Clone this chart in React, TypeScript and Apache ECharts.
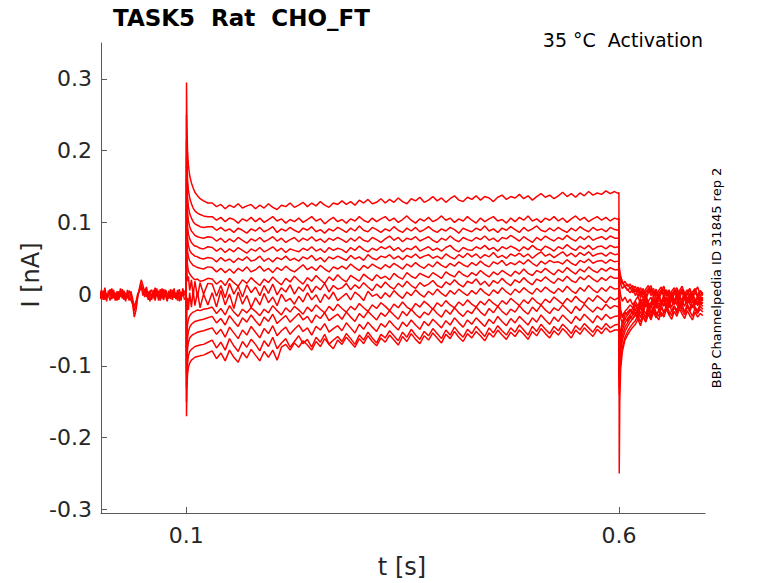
import React, { useEffect, useRef } from 'react';
import * as echarts from 'echarts';

// axis ticks
const X_TICKS = [0.1, 0.6];
const Y_TICKS = [-0.3, -0.2, -0.1, 0, 0.1, 0.2, 0.3];

// holding current before the step, pA, one sample every BASE_DT s
const BASE_DT = 0.002;
const BASELINE_PA = [
  [2, -6, 5, -8, 1, -4, 7, -7, 3, -9,
    4, -5, 8, -6, 0, -10, 6, -3, -8, -14,
    -32, -22, -4, 9, 20, 12, 3, 10, -6, 5,
    -8, 6, -4, 8, -9, 3, -6, 7, -2, -10,
    5, -7, 6, -5, 2, -9, 7, -4, 4, -8],
  [-3, 6, -8, 3, -10, 5, -2, 8, -6, 2,
    -9, 4, -4, 7, -8, 2, -6, 5, -2, -10,
    -24, -16, -2, 6, 14, 5, -4, 8, -8, 3,
    6, -6, 9, -3, 5, -9, 8, -5, 4, -7,
    -2, 7, -8, 4, -6, 6, -10, 3, -3, 5],
  [-7, 1, -3, 9, -5, -1, -9, 2, 6, -5,
    3, -8, 2, -2, 5, -7, 1, -9, 4, -6,
    -18, -10, 1, 4, 10, -2, 7, -4, 4, -10,
    -1, 3, -9, 2, -6, 7, -3, -8, 6, 1,
    -6, 2, -4, 8, -7, 0, 4, -9, 8, -2],
];

// step onset, s
const ONSET_T = [0.1, 0.1003, 0.1008, 0.1015, 0.1025, 0.104, 0.106, 0.108, 0.11, 0.113, 0.116, 0.12, 0.125];
// during the step, one sample every STEADY_DT s from STEADY_T0
const STEADY_T0 = 0.13;
const STEADY_DT = 0.005;
// step offset, s
const OFFSET_T = [0.5995, 0.6, 0.6004, 0.601, 0.602, 0.604, 0.607, 0.61, 0.613, 0.616];
// tail after the step, one sample every TAIL_DT s from TAIL_T0
const TAIL_T0 = 0.619;
const TAIL_DT = 0.003;

// one row per voltage step, pA
const ONSET_PA = [
  [0, 295, 235, 200, 180, 165, 155, 148, 142, 137, 133, 130, 127],
  [0, 250, 190, 160, 145, 134, 126, 120, 116, 113, 111, 109, 108],
  [0, 215, 160, 135, 122, 112, 106, 101, 98, 96, 94, 93, 94],
  [0, 190, 140, 115, 102, 94, 88, 85, 82, 80, 79, 78, 80],
  [0, 160, 115, 95, 84, 77, 72, 69, 67, 66, 64, 63, 66],
  [0, 130, 95, 78, 68, 61, 57, 55, 53, 52, 50, 49, 51],
  [0, 100, 75, 60, 52, 46, 43, 40, 39, 37, 36, 35, 38],
  [0, 80, 55, 40, 32, 28, 25, 22, 20, 21, 18, 19, 22],
  [0, 50, 30, 18, 25, 5, 20, -2, 18, -4, 16, 0, 15],
  [0, -40, -20, -5, -22, 2, -18, 5, -16, 3, -19, 0, -15],
  [0, -80, -55, -42, -35, -30, -27, -25, -24, -22, -23, -21, -20],
  [0, -110, -80, -62, -52, -46, -42, -40, -38, -37, -36, -35, -33],
  [0, -130, -95, -77, -67, -61, -58, -56, -55, -53, -52, -51, -49],
  [0, -150, -115, -97, -86, -80, -77, -75, -73, -72, -71, -70, -67],
  [0, -170, -130, -112, -102, -96, -92, -90, -88, -87, -86, -85, -82],
];

const STEADY_PA = [
  [127, 122, 125, 119, 124, 121, 126, 120, 123, 125,
    119, 124, 120, 126, 121, 118, 124, 122, 127, 121,
    124, 128, 122, 127, 123, 129, 124, 121, 127, 125,
    130, 125, 129, 124, 131, 127, 132, 126, 128, 133,
    127, 132, 128, 134, 129, 126, 133, 130, 135, 128,
    131, 136, 130, 134, 128, 133, 137, 131, 129, 135,
    132, 137, 131, 136, 134, 129, 135, 138, 132, 136,
    134, 139, 133, 137, 131, 136, 140, 135, 138, 133,
    137, 142, 136, 140, 135, 141, 137, 143, 138, 141,
    139, 144, 140, 143],
  [108, 103, 107, 101, 106, 104, 99, 105, 102, 107,
    101, 106, 100, 104, 108, 102, 105, 99, 104, 101,
    106, 100, 104, 108, 102, 105, 98, 103, 107, 101,
    104, 99, 105, 102, 108, 103, 100, 106, 101, 105,
    108, 102, 106, 100, 104, 109, 103, 99, 105, 102,
    107, 101, 104, 109, 103, 106, 100, 105, 102, 108,
    103, 99, 106, 101, 105, 108, 102, 104, 99, 106,
    101, 107, 103, 109, 102, 105, 100, 106, 103, 108,
    102, 106, 100, 105, 109, 103, 107, 101, 105, 108,
    103, 107, 102, 106],
  [94, 89, 93, 88, 91, 86, 92, 89, 85, 91,
    88, 93, 87, 90, 94, 86, 91, 88, 93, 89,
    86, 92, 89, 94, 87, 90, 85, 91, 88, 93,
    90, 86, 92, 88, 95, 89, 87, 93, 90, 86,
    91, 88, 94, 89, 86, 92, 88, 93, 87, 90,
    94, 89, 86, 91, 88, 93, 90, 85, 92, 89,
    87, 92, 89, 95, 88, 91, 86, 92, 89, 94,
    90, 86, 93, 88, 91, 95, 89, 87, 92, 88,
    93, 89, 86, 92, 88, 94, 90, 87, 93, 89,
    91, 87, 93, 90],
  [79, 74, 78, 72, 77, 73, 79, 75, 71, 77,
    74, 79, 73, 76, 80, 74, 78, 72, 76, 79,
    73, 78, 75, 80, 74, 77, 72, 78, 75, 79,
    76, 72, 78, 74, 80, 75, 73, 79, 76, 72,
    77, 81, 75, 79, 73, 78, 76, 80, 74, 77,
    80, 75, 72, 78, 75, 81, 76, 73, 79, 76,
    74, 79, 76, 81, 75, 78, 73, 79, 77, 82,
    78, 74, 80, 76, 72, 79, 75, 81, 77, 74,
    79, 76, 82, 77, 74, 80, 76, 81, 75, 78,
    80, 76, 81, 78],
  [65, 60, 64, 58, 63, 59, 65, 61, 57, 63,
    60, 65, 59, 62, 66, 60, 64, 58, 63, 61,
    59, 64, 61, 66, 60, 63, 58, 65, 61, 64,
    62, 58, 65, 61, 67, 62, 59, 64, 61, 66,
    63, 67, 61, 65, 59, 64, 62, 67, 60, 63,
    66, 61, 64, 60, 65, 68, 62, 59, 65, 62,
    61, 66, 63, 68, 62, 65, 60, 66, 63, 67,
    64, 60, 66, 62, 68, 63, 61, 67, 64, 60,
    66, 63, 69, 64, 61, 67, 63, 68, 62, 66,
    67, 63, 68, 65],
  [50, 45, 51, 46, 49, 44, 50, 47, 52, 46,
    48, 53, 46, 50, 45, 51, 48, 53, 47, 50,
    46, 52, 49, 54, 47, 51, 45, 52, 49, 53,
    50, 47, 54, 49, 52, 47, 55, 50, 48, 53,
    51, 55, 49, 53, 48, 54, 51, 56, 50, 53,
    55, 50, 53, 49, 56, 52, 49, 55, 51, 57,
    52, 56, 50, 55, 52, 58, 51, 54, 50, 56,
    53, 57, 52, 56, 50, 55, 59, 53, 56, 51,
    55, 59, 53, 57, 52, 58, 54, 59, 53, 56,
    57, 53, 58, 55],
  [37, 31, 36, 30, 35, 29, 36, 32, 38, 31,
    34, 39, 32, 36, 30, 37, 33, 39, 34, 31,
    36, 41, 34, 38, 33, 40, 35, 31, 38, 35,
    39, 35, 42, 37, 33, 40, 36, 42, 38, 35,
    41, 37, 43, 39, 35, 42, 38, 44, 39, 36,
    42, 38, 45, 40, 37, 43, 39, 45, 41, 38,
    44, 40, 46, 41, 38, 45, 42, 47, 40, 44,
    41, 46, 42, 48, 43, 39, 46, 42, 47, 44,
    45, 42, 48, 43, 40, 47, 44, 49, 43, 46,
    47, 43, 48, 45],
  [21, 14, 19, 12, 22, 16, 11, 20, 15, 23,
    17, 12, 21, 16, 24, 18, 13, 22, 17, 25,
    19, 14, 23, 18, 26, 20, 15, 24, 19, 27,
    21, 17, 26, 22, 18, 28, 23, 19, 27, 22,
    25, 20, 29, 24, 21, 30, 25, 22, 29, 26,
    23, 30, 26, 22, 31, 27, 24, 32, 27, 24,
    30, 26, 33, 28, 24, 31, 27, 33, 29, 25,
    32, 28, 35, 29, 26, 33, 30, 36, 31, 27,
    34, 30, 37, 32, 28, 35, 31, 38, 33, 30,
    36, 32, 37, 34],
  [14, -3, 12, -5, 15, 0, 11, -4, 13, 2,
    10, -2, 12, 1, 14, -1, 9, 3, 13, 0,
    10, 4, 14, 2, 11, 6, 15, 3, 12, 7,
    9, 15, 6, 13, 8, 16, 10, 5, 14, 9,
    17, 11, 7, 15, 10, 18, 12, 8, 16, 11,
    14, 19, 12, 9, 17, 13, 20, 14, 10, 18,
    15, 21, 13, 18, 11, 19, 15, 22, 16, 12,
    20, 16, 23, 17, 13, 21, 18, 24, 19, 15,
    22, 18, 25, 19, 16, 24, 20, 26, 21, 17,
    23, 19, 25, 22],
  [2, -18, 5, -15, 0, -20, 3, -14, -2, -19,
    -5, -15, 1, -12, -4, -16, 0, -10, -6, -14,
    -3, -11, 2, -8, -1, -12, 0, -7, 3, -9,
    -4, 1, -8, 3, -2, -9, 4, -3, 0, -6,
    2, -4, 5, -1, -6, 3, -2, 6, 0, -4,
    4, -1, 7, 1, -3, 5, 0, 7, 2, -2,
    5, 0, 8, 2, -2, 6, 1, 9, 3, -1,
    7, 2, 9, 4, 0, 8, 3, 10, 5, 1,
    8, 3, 11, 5, 1, 9, 4, 12, 6, 2,
    9, 4, 11, 7],
  [-18, -27, -20, -29, -16, -25, -31, -21, -26, -19,
    -24, -30, -21, -26, -16, -23, -29, -19, -25, -17,
    -22, -28, -18, -24, -15, -21, -26, -17, -23, -14,
    -20, -25, -17, -22, -13, -19, -24, -15, -20, -12,
    -17, -23, -14, -19, -11, -18, -22, -13, -18, -10,
    -15, -21, -12, -17, -9, -15, -19, -11, -16, -8,
    -14, -18, -10, -15, -7, -13, -17, -9, -14, -6,
    -11, -16, -8, -13, -5, -11, -15, -7, -12, -4,
    -9, -14, -6, -11, -3, -9, -13, -5, -10, -2,
    -7, -12, -4, -8],
  [-31, -40, -34, -43, -30, -38, -45, -33, -39, -29,
    -37, -44, -32, -38, -28, -41, -35, -30, -39, -33,
    -27, -36, -31, -40, -29, -34, -26, -37, -32, -28,
    -35, -25, -32, -38, -27, -33, -24, -30, -36, -26,
    -31, -23, -29, -35, -24, -30, -21, -28, -33, -25,
    -29, -20, -27, -32, -22, -28, -19, -26, -31, -23,
    -27, -18, -25, -30, -20, -26, -17, -24, -29, -21,
    -25, -16, -23, -28, -18, -24, -15, -22, -27, -19,
    -23, -15, -21, -27, -17, -23, -14, -20, -25, -18,
    -22, -14, -20, -16],
  [-47, -56, -49, -60, -46, -54, -62, -50, -57, -45,
    -53, -61, -48, -55, -44, -58, -51, -46, -56, -49,
    -43, -52, -47, -57, -45, -50, -41, -53, -48, -44,
    -51, -40, -47, -54, -42, -49, -39, -46, -52, -41,
    -46, -37, -44, -50, -39, -45, -36, -43, -49, -38,
    -44, -35, -41, -47, -37, -43, -33, -40, -46, -36,
    -42, -33, -39, -45, -35, -41, -31, -38, -44, -34,
    -40, -31, -37, -43, -33, -39, -29, -36, -42, -32,
    -38, -29, -35, -41, -31, -37, -28, -34, -40, -30,
    -36, -28, -34, -31],
  [-64, -75, -67, -78, -62, -72, -80, -66, -74, -63,
    -70, -79, -65, -73, -60, -76, -68, -62, -74, -66,
    -58, -69, -63, -74, -60, -67, -56, -70, -64, -59,
    -66, -55, -62, -70, -57, -64, -53, -61, -68, -56,
    -61, -51, -58, -65, -53, -60, -49, -57, -63, -52,
    -58, -48, -55, -62, -50, -57, -46, -54, -60, -49,
    -55, -45, -52, -59, -47, -54, -44, -51, -57, -47,
    -53, -43, -50, -57, -45, -52, -42, -49, -55, -45,
    -51, -42, -48, -55, -44, -50, -41, -47, -53, -44,
    -49, -41, -47, -43],
  [-79, -90, -82, -93, -78, -88, -95, -81, -89, -77,
    -85, -93, -80, -88, -78, -92, -74, -70, -78, -68,
    -74, -65, -71, -78, -66, -73, -62, -70, -76, -64,
    -70, -60, -67, -74, -62, -69, -58, -66, -72, -61,
    -67, -57, -64, -71, -59, -66, -55, -63, -69, -58,
    -64, -54, -61, -68, -56, -62, -52, -60, -66, -55,
    -61, -52, -58, -65, -54, -60, -50, -57, -63, -53,
    -59, -50, -56, -63, -52, -58, -48, -55, -61, -51,
    -57, -48, -54, -61, -50, -56, -47, -53, -59, -49,
    -55, -47, -53, -50],
];

const OFFSET_PA = [
  [140, 142, -250, -150, -105, -80, -64, -57, -51, -46],
  [104, 106, -140, -110, -90, -74, -60, -52, -46, -41],
  [89, 91, -130, -98, -80, -64, -52, -45, -39, -34],
  [78, 80, -120, -90, -72, -57, -46, -40, -34, -29],
  [66, 68, -110, -82, -64, -50, -40, -34, -29, -24],
  [56, 58, -100, -74, -56, -44, -34, -29, -24, -20],
  [46, 48, -90, -66, -50, -38, -29, -25, -21, -26],
  [34, 36, 20, -5, -22, -30, -24, -20, -15, -19],
  [22, 24, 38, 32, 25, 17, 10, 6, 2, 7],
  [8, 10, 35, 30, 24, 17, 11, 14, 8, 12],
  [-5, -3, 30, 26, 20, 14, 18, 11, 14, 7],
  [-18, -16, 25, 20, 14, 8, 12, 5, 9, 2],
  [-30, -28, 12, 6, -2, -10, -4, -12, -7, -15],
  [-42, -40, -8, -18, -26, -33, -25, -29, -23, -28],
  [-50, -48, -15, -26, -34, -40, -33, -38, -30, -35],
];

const TAIL_PA = [
  [-42, -35, -44, -31, -39, -28, -36, -25, -33, -22, -31, -26, -19, -29, -23, -16, -27, -21, -14, -25, -18, -24, -15, -22, -27, -17, -21],
  [-37, -30, -39, -26, -34, -22, -31, -19, -28, -24, -15, -26, -20, -12, -24, -17, -22, -11, -19, -25, -14, -21, -9, -18, -23, -13, -17],
  [-30, -23, -33, -20, -28, -15, -25, -19, -11, -23, -16, -8, -21, -13, -18, -6, -15, -20, -9, -17, -4, -14, -19, -8, -16, -11, -13],
  [-25, -31, -18, -27, -13, -22, -16, -7, -20, -12, -17, -4, -14, -19, -8, -15, -2, -12, -17, -6, -13, -1, -10, -15, -5, -11, -8],
  [-20, -27, -14, -22, -9, -18, -12, -3, -16, -8, -13, 0, -10, -15, -4, -12, 2, -8, -13, -3, -10, 1, -7, -12, -2, -9, -5],
  [-16, -23, -10, -18, -6, -14, -20, -8, -15, -2, -11, -17, -5, -13, 1, -9, -14, -3, -10, 2, -7, -12, -1, -8, -13, -4, -9],
  [-14, -21, -9, -17, -4, -13, -19, -7, -14, -1, -10, -16, -4, -12, 2, -8, -13, -2, -9, 3, -6, -11, 0, -7, -12, -3, -6],
  [-10, -17, -6, -14, -2, -11, -18, -7, -13, -3, -10, -16, -5, -12, 0, -8, -14, -4, -10, 1, -7, -12, -2, -9, -15, -5, -8],
  [-2, 6, -5, 4, -8, 2, 8, -4, 5, -7, 1, 7, -3, 4, -9, 0, 6, -5, 3, -8, 1, 5, -6, 2, -3, 4, -1],
  [3, 10, -1, 8, -3, 6, 12, 0, 7, -4, 5, 11, -2, 6, -5, 4, 9, -1, 5, -6, 3, 8, -3, 4, 10, -2, 2],
  [11, 3, 9, -1, 7, 12, 2, 8, -3, 5, 10, 0, 6, -4, 4, 9, -1, 5, 11, 1, 6, -3, 3, 8, -2, 5, 1],
  [7, -3, 5, -6, 3, 8, -2, 4, -7, 1, 6, -4, 3, -8, 0, 5, -5, 2, 7, -3, 1, -7, 2, 6, -4, 0, -2],
  [-9, -3, -14, -6, -18, -10, -4, -15, -7, -19, -11, -5, -16, -8, -2, -13, -6, -17, -9, -3, -14, -7, -18, -10, -5, -15, -11],
  [-21, -29, -18, -26, -32, -20, -27, -16, -25, -31, -19, -26, -15, -24, -30, -18, -25, -14, -23, -29, -17, -24, -31, -19, -26, -21, -25],
  [-27, -35, -24, -32, -38, -26, -33, -22, -30, -36, -25, -32, -21, -29, -35, -24, -31, -20, -28, -34, -23, -30, -36, -25, -32, -27, -30],
];

const FONT = '"DejaVu Sans", Verdana, sans-serif';
const AXIS_COLOR = '#5a5a5a';
const TRACE_COLOR = '#ff0000';

const lineSeries = (data: number[][]) => ({
  type: 'line',
  data,
  symbol: 'none',
  silent: true,
  clip: true,
  lineStyle: { color: TRACE_COLOR, width: 1.5 },
  itemStyle: { color: TRACE_COLOR },
});

const App: React.FC = () => {
  const chartRef = useRef<HTMLDivElement>(null);

  useEffect(() => {
    if (!chartRef.current) return;
    document.body.style.margin = '0';
    const chart = echarts.init(chartRef.current, null, { renderer: 'svg' });

    const toNA = (pa: number) => pa / 1000;
    const baseline = BASELINE_PA.map((row) =>
      lineSeries(row.map((v, i) => [i * BASE_DT, toNA(v)]))
    );
    const traces = ONSET_PA.map((onset, k) =>
      lineSeries([
        ...onset.map((v, i) => [ONSET_T[i], toNA(v)]),
        ...STEADY_PA[k].map((v, i) => [STEADY_T0 + i * STEADY_DT, toNA(v)]),
        ...OFFSET_PA[k].map((v, i) => [OFFSET_T[i], toNA(v)]),
        ...TAIL_PA[k].map((v, i) => [TAIL_T0 + i * TAIL_DT, toNA(v)]),
      ])
    );

    const tickText = (v: number) => (Math.abs(v) < 1e-9 ? '0' : String(+v.toFixed(1)));

    chart.setOption({
      animation: false,
      grid: { left: 101, right: 73, top: 43, bottom: 70, containLabel: false },
      xAxis: {
        type: 'value',
        min: 0.0015,
        max: 0.6995,
        axisLine: { show: true, onZero: false, lineStyle: { color: AXIS_COLOR, width: 1 } },
        axisTick: { show: true, inside: true, length: 6, customValues: X_TICKS, lineStyle: { color: AXIS_COLOR } },
        axisLabel: {
          customValues: X_TICKS,
          formatter: tickText,
          color: '#262626',
          fontSize: 22,
          fontFamily: FONT,
          margin: 11,
        },
        splitLine: { show: false },
      },
      yAxis: {
        type: 'value',
        min: -0.305,
        max: 0.35,
        axisLine: { show: true, onZero: false, lineStyle: { color: AXIS_COLOR, width: 1 } },
        axisTick: { show: true, inside: true, length: 6, customValues: Y_TICKS, lineStyle: { color: AXIS_COLOR } },
        axisLabel: {
          customValues: Y_TICKS,
          formatter: tickText,
          color: '#262626',
          fontSize: 22,
          fontFamily: FONT,
          margin: 9,
        },
        splitLine: { show: false },
      },
      graphic: [
        {
          type: 'text',
          x: 113,
          y: 18,
          style: { text: 'TASK5  Rat  CHO_FT', font: `bold 23px ${FONT}`, fill: '#000', align: 'left', verticalAlign: 'middle' },
        },
        {
          type: 'text',
          x: 703,
          y: 40,
          style: { text: '35 °C  Activation', font: `19px ${FONT}`, fill: '#000', align: 'right', verticalAlign: 'middle' },
        },
        {
          type: 'text',
          x: 31,
          y: 275,
          rotation: Math.PI / 2,
          style: { text: 'I [nA]', font: `24px ${FONT}`, fill: '#262626', align: 'center', verticalAlign: 'middle' },
        },
        {
          type: 'text',
          x: 402,
          y: 567,
          style: { text: 't [s]', font: `24px ${FONT}`, fill: '#262626', align: 'center', verticalAlign: 'middle' },
        },
        {
          type: 'text',
          x: 716,
          y: 278,
          rotation: Math.PI / 2,
          style: { text: 'BBP Channelpedia ID 31845 rep 2', font: `13px ${FONT}`, fill: '#000', align: 'center', verticalAlign: 'middle' },
        },
      ],
      series: [...baseline, ...traces],
    });

    return () => {
      chart.dispose();
    };
  }, []);

  return <div ref={chartRef} style={{ width: 778, height: 583 }} />;
};

export default App;
